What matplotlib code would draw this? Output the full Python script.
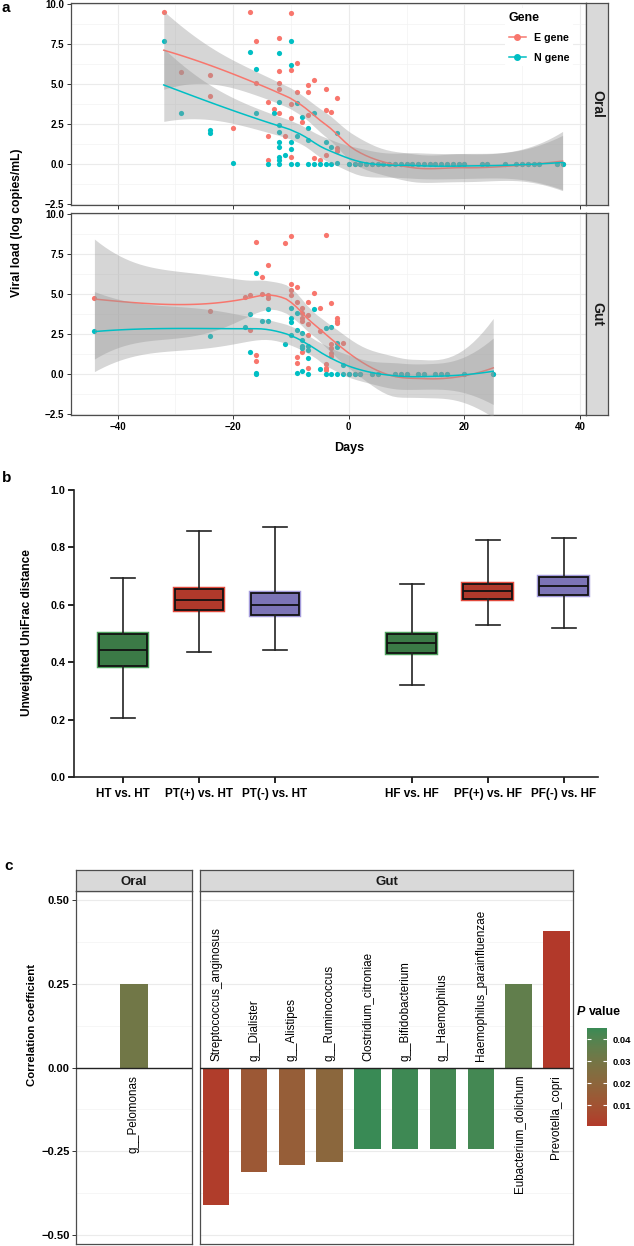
import numpy as np
import matplotlib
matplotlib.use("Agg")
import matplotlib.pyplot as plt
from matplotlib.colors import LinearSegmentedColormap, Normalize
from matplotlib.cm import ScalarMappable
from matplotlib.lines import Line2D
from matplotlib.patches import Rectangle

plt.rcParams['font.family'] = ['Liberation Sans', 'DejaVu Sans']
plt.rcParams['font.weight'] = 'bold'

# ---------------- data: panel a ----------------
oral_e_days = [-32, -29, -24, -24, -20, -17, -16, -16, -14, -14, -14, -13, -12, -12, -12, -12, -12, -11,
               -10, -10, -10, -10, -10, -9, -9, -8, -7, -7, -7, -6, -6, -5, -4, -4, -4, -3, -2, -2, -2]
oral_e_load = [9.48, 5.75, 5.54, 4.23, 2.25, 9.48, 7.71, 5.04, 3.85, 1.77, 0.25, 3.46, 7.87, 5.81, 5.04, 4.69, 3.17, 1.77,
               9.42, 5.85, 3.73, 2.85, 0.46, 6.29, 4.48, 2.65, 4.94, 4.48, 3.06, 5.25, 0.40, 0.25, 4.71, 3.38, 0.60, 3.25, 4.10, 1.02, 0.83]
oral_n_days = [-32, -29, -24, -24, -20, -17, -16, -16, -14, -13, -12, -12, -12, -12, -12, -12, -12, -12, -12, -11,
               -10, -10, -10, -10, -10, -9, -9, -9, -8, -7, -7, -7, -6, -6, -5, -4, -4, -3, -3, -2, -2]
oral_n_load = [7.71, 3.17, 2.10, 1.92, 0.10, 7.00, 5.94, 3.17, 0.02, 3.17, 6.94, 3.85, 2.42, 1.98, 1.40, 1.06, 0.46, 0.25, 0.02, 0.54,
               7.69, 6.19, 1.40, 0.94, 0.02, 3.83, 1.73, 0.02, 2.92, 2.27, 1.50, 0.00, 3.21, 0.00, 0.00, 1.40, 0.00, 1.08, 0.00, 1.94, 0.10]
oral_zero_days = [0, 1, 2, 3, 4, 5, 6, 7, 8, 9, 10, 11, 12, 13, 14, 15, 16, 17, 18, 19, 20, 23, 24, 27, 29, 30, 31, 32, 33, 36, 37]
oral_zero_load = [0.0, 0.0, 0.0, 0.0, 0.0, 0.0, 0.0, 0.0, 0.0, 0.0, 0.0, 0.0, 0.0, 0.0, 0.0, 0.0, 0.0, 0.0, 0.0, 0.0, 0.0,
                  0.0, 0.0, 0.0, 0.0, 0.0, 0.0, 0.0, 0.0, 0.0, 0.0]

gut_e_days = [-44, -24, -18, -17, -17, -16, -16, -16, -15, -15, -14, -14, -14, -11, -10, -10, -10, -10, -9, -9, -9, -9,
              -8, -8, -8, -8, -8, -7, -7, -7, -7, -7, -6, -5, -5, -4, -4, -4, -4, -3, -3, -3, -3, -3, -2, -2, -2, -1]
gut_e_load = [4.75, 3.93, 4.79, 4.96, 2.73, 8.26, 1.22, 0.84, 6.05, 5.00, 6.81, 4.96, 4.73, 8.15, 8.63, 5.63, 5.25, 4.92,
              5.44, 4.50, 1.07, 0.71, 4.10, 3.80, 3.47, 3.32, 1.39, 4.50, 3.66, 3.13, 2.42, 0.36, 5.06, 4.12, 2.69,
              8.65, 0.61, 0.40, 0.23, 4.44, 1.85, 1.60, 1.32, 1.11, 3.49, 3.34, 3.21, 1.95]
gut_n_days = [-44, -24, -18, -17, -17, -16, -16, -16, -15, -14, -14, -11, -10, -10, -10, -10, -9, -9, -9,
              -8, -8, -8, -8, -8, -7, -7, -7, -7, -6, -5, -4, -4, -3, -3, -2, -2, -2, -1, -1]
gut_n_load = [2.71, 2.39, 2.92, 3.74, 1.39, 6.28, 0.10, 0.00, 3.30, 3.30, 4.05, 1.85, 4.10, 3.49, 3.24, 2.46, 3.84, 2.75, 0.08,
              2.58, 2.12, 1.76, 1.64, 0.17, 1.76, 1.53, 0.99, 0.02, 4.05, 0.30, 2.90, 0.00, 2.96, 0.00, 1.91, 1.70, 0.00, 0.60, 0.00]
gut_zero_days = [0, 1, 2, 4, 5, 8, 9, 10, 12, 13, 15, 16, 17, 20, 25]
gut_zero_load = [0.0, 0.0, 0.0, 0.0, 0.0, 0.0, 0.0, 0.0, 0.0, 0.0, 0.0, 0.0, 0.0, 0.0, 0.0]

genes = ['E gene', 'N gene']
gene_colors = ['#F8766D', '#00BFC4']

# ---------------- data: panel b ----------------
b_labels = ['HT vs. HT', 'PT(+) vs. HT', 'PT(-) vs. HT', 'HF vs. HF', 'PF(+) vs. HF', 'PF(-) vs. HF']
b_whislo = [0.206, 0.435, 0.441, 0.319, 0.528, 0.518]
b_q1 = [0.386, 0.581, 0.566, 0.433, 0.620, 0.633]
b_med = [0.443, 0.617, 0.600, 0.466, 0.647, 0.665]
b_q3 = [0.500, 0.655, 0.641, 0.498, 0.671, 0.697]
b_whishi = [0.692, 0.857, 0.871, 0.671, 0.825, 0.832]
b_face = ['#3B7A46', '#B0392B', '#7C74B6', '#3B7A46', '#B0392B', '#7C74B6']
b_rim = ['#4FA25E', '#E24A3C', '#A39BDB', '#4FA25E', '#E24A3C', '#A39BDB']

# ---------------- data: panel c ----------------
c_oral_taxa = ['g__Pelomonas']
c_oral_r = [0.25]
c_oral_p = [0.031]
c_gut_taxa = ['Streptococcus_anginosus', 'g__Dialister', 'g__Alistipes', 'g__Ruminococcus',
              'Clostridium_citroniae', 'g__Bifidobacterium', 'g__Haemophilus',
              'Haemophilus_parainfluenzae', 'Eubacterium_dolichum', 'Prevotella_copri']
c_gut_r = [-0.411, -0.311, -0.291, -0.281, -0.242, -0.242, -0.242, -0.242, 0.249, 0.409]
c_gut_p = [0.002, 0.013, 0.016, 0.021, 0.045, 0.044, 0.043, 0.043, 0.036, 0.0006]
p_ticks = [0.01, 0.02, 0.03, 0.04]

# ---------------- helpers ----------------
W, H = 634, 1246
fig = plt.figure(figsize=(W / 100, H / 100), dpi=100)


def rect(l, t, r, b):
    return [l / W, 1 - b / H, (r - l) / W, (b - t) / H]


def t975(df):
    z = 1.959964
    return (z + (z ** 3 + z) / (4 * df) + (5 * z ** 5 + 16 * z ** 3 + 3 * z) / (96 * df ** 2)
            + (3 * z ** 7 + 19 * z ** 5 + 17 * z ** 3 - 15 * z) / (384 * df ** 3))


def loess(x, y, xg, span=0.75, cell=0.2):
    """Local quadratic loess with kd-tree vertices and cubic Hermite interpolation (like R)."""
    x = np.asarray(x, float)
    y = np.asarray(y, float)
    n = len(x)
    q = int(np.floor(n * span))

    def local(x0):
        d = np.abs(x - x0)
        h = np.sort(d)[q - 1] * 1.0001 + 1e-9
        u = np.clip(d / h, 0, 1)
        w = (1 - u ** 3) ** 3
        X = np.column_stack([np.ones(n), x - x0, (x - x0) ** 2])
        XtW = X.T * w
        B = np.linalg.solve(XtW @ X, XtW)
        return B[0], B[1]

    xs = np.sort(x)
    fc = int(np.floor(n * span * cell))
    marg = 0.005 * (xs[-1] - xs[0])
    lo0, hi0 = xs[0] - marg, xs[-1] + marg
    verts = {lo0, hi0}

    def split(pts, lo, hi):
        if len(pts) <= fc:
            return
        m = (len(pts) + 1) // 2 - 1
        while m > 0 and pts[m - 1] == pts[m]:
            m -= 1
        v = pts[m]
        if v <= lo or v >= hi:
            return
        verts.add(v)
        split(pts[pts < v], lo, v)
        split(pts[pts >= v], v, hi)

    split(xs, lo0, hi0)
    vx = np.array(sorted(verts))
    R0, R1 = zip(*[local(v) for v in vx])
    R0 = np.array(R0)
    R1 = np.array(R1)

    def rows(xq):
        out = []
        for x0 in xq:
            i = int(np.clip(np.searchsorted(vx, x0) - 1, 0, len(vx) - 2))
            a, b = vx[i], vx[i + 1]
            hh = b - a
            t = (x0 - a) / hh
            h00 = 2 * t ** 3 - 3 * t ** 2 + 1
            h10 = t ** 3 - 2 * t ** 2 + t
            h01 = -2 * t ** 3 + 3 * t ** 2
            h11 = t ** 3 - t ** 2
            out.append(h00 * R0[i] + h10 * hh * R1[i] + h01 * R0[i + 1] + h11 * hh * R1[i + 1])
        return np.array(out)

    L = rows(x)
    res = y - L @ y
    IL = np.eye(n) - L
    Rm = IL.T @ IL
    d1 = np.trace(Rm)
    d2 = np.trace(Rm @ Rm)
    sigma = np.sqrt(res @ res / d1)
    df = d1 ** 2 / d2
    G = rows(xg)
    fit = G @ y
    se = sigma * np.sqrt((G ** 2).sum(1))
    t = t975(df)
    return fit, fit - t * se, fit + t * se


def srgb2lab(c):
    c = np.asarray(c, float)
    lin = np.where(c <= 0.04045, c / 12.92, ((c + 0.055) / 1.055) ** 2.4)
    M = np.array([[0.4124, 0.3576, 0.1805], [0.2126, 0.7152, 0.0722], [0.0193, 0.1192, 0.9505]])
    xyz = M @ lin / np.array([0.95047, 1.0, 1.08883])
    f = np.where(xyz > 0.008856, np.cbrt(xyz), 7.787 * xyz + 16 / 116)
    return np.array([116 * f[1] - 16, 500 * (f[0] - f[1]), 200 * (f[1] - f[2])])


def lab2srgb(lab):
    L, a, b = lab
    fy = (L + 16) / 116
    fx = fy + a / 500
    fz = fy - b / 200
    f = np.array([fx, fy, fz])
    xyz = np.where(f ** 3 > 0.008856, f ** 3, (f - 16 / 116) / 7.787) * np.array([0.95047, 1.0, 1.08883])
    Mi = np.array([[3.2406, -1.5372, -0.4986], [-0.9689, 1.8758, 0.0415], [0.0557, -0.2040, 1.0570]])
    lin = Mi @ xyz
    c = np.where(lin <= 0.0031308, 12.92 * lin, 1.055 * np.clip(lin, 0, None) ** (1 / 2.4) - 0.055)
    return np.clip(c, 0, 1)


def lab_cmap(c_low, c_high, n=256):
    lo = srgb2lab(matplotlib.colors.to_rgb(c_low))
    hi = srgb2lab(matplotlib.colors.to_rgb(c_high))
    cols = [lab2srgb(lo + (hi - lo) * t) for t in np.linspace(0, 1, n)]
    return LinearSegmentedColormap.from_list('pv', cols)


# ---------------- panel a ----------------
fig.text(2 / W, 1 - 1 / H, 'a', fontsize=11, va='top', ha='left')
facets = [
    ('Oral', (3, 205), [(oral_e_days + oral_zero_days, oral_e_load + oral_zero_load),
                        (oral_n_days + oral_zero_days, oral_n_load + oral_zero_load)]),
    ('Gut', (213, 415), [(gut_e_days + gut_zero_days, gut_e_load + gut_zero_load),
                         (gut_n_days + gut_zero_days, gut_n_load + gut_zero_load)]),
]
axes_a = []
for name, (top, bot), series in facets:
    ax = fig.add_axes(rect(71, top, 586, bot))
    axes_a.append(ax)
    ax.set_xlim(-48.05, 41.05)
    ax.set_ylim(-2.55, 10.05)
    ax.set_xticks([-40, -20, 0, 20, 40])
    ax.set_xticks([-30, -10, 10, 30], minor=True)
    ax.set_yticks([-2.5, 0, 2.5, 5, 7.5, 10])
    ax.set_yticks([-1.25, 1.25, 3.75, 6.25, 8.75], minor=True)
    ax.grid(which='major', color='#EBEBEB', lw=0.8)
    ax.grid(which='minor', color='#F3F3F3', lw=0.5)
    ax.set_axisbelow(True)
    ax.tick_params(which='minor', length=0)
    ax.tick_params(which='major', length=3.2, width=0.7, color='#333333', labelsize=7, pad=1.5)
    for s in ax.spines.values():
        s.set_color('#4D4D4D')
        s.set_linewidth(0.9)
    for (xs, ys), c in zip(series, gene_colors):
        ax.scatter(xs, ys, s=14, color=c, linewidths=0, zorder=2)
    for (xs, ys), c in zip(series, gene_colors):
        xg = np.linspace(min(xs), max(xs), 80)
        fit, lo, hi = loess(xs, ys, xg)
        ax.fill_between(xg, lo, hi, color='#999999', alpha=0.4, lw=0, zorder=3)
        ax.plot(xg, fit, color=c, lw=1.1, zorder=3)
    sax = fig.add_axes(rect(586, top, 608, bot))
    sax.set_facecolor('#D9D9D9')
    sax.set_xticks([])
    sax.set_yticks([])
    for s in sax.spines.values():
        s.set_color('#4D4D4D')
        s.set_linewidth(0.9)
    sax.text(0.5, 0.5, name, rotation=-90, ha='center', va='center', fontsize=10,
             color='#1A1A1A', transform=sax.transAxes)

axes_a[0].tick_params(labelbottom=False)
handles = [Line2D([0], [0], color=c, lw=1.1, marker='o', markersize=4) for c in gene_colors]
leg = axes_a[0].legend(handles, genes, title='Gene', loc='upper right', bbox_to_anchor=(0.985, 1.0),
                       frameon=True, fontsize=7.7, title_fontsize=9, handlelength=1.6,
                       labelspacing=0.9, borderpad=0.3, alignment='left', handletextpad=0.8)
leg.get_frame().set_facecolor('white')
leg.get_frame().set_edgecolor('none')
leg.get_frame().set_alpha(1)
fig.text(17 / W, 1 - 223 / H, 'Viral load (log copies/mL)', rotation=90, ha='center', va='center', fontsize=8.7)
fig.text(349 / W, 1 - 448 / H, 'Days', ha='center', va='center', fontsize=9)

# ---------------- panel b ----------------
fig.text(2 / W, 1 - 478 / H, 'b', fontsize=11, va='center', ha='left')
axb = fig.add_axes(rect(74, 490, 598, 777))
pos = [0, 1, 2, 3.8, 4.8, 5.8]
stats = [dict(whislo=a, q1=b, med=c, q3=d, whishi=e, label=l)
         for a, b, c, d, e, l in zip(b_whislo, b_q1, b_med, b_q3, b_whishi, b_labels)]
bw = 0.64
for p, q1, q3, rc in zip(pos, b_q1, b_q3, b_rim):
    axb.add_patch(Rectangle((p - bw / 2, q1), bw, q3 - q1, facecolor='none', edgecolor=rc, lw=3.2, zorder=1.9))
bp = axb.bxp(stats, positions=pos, widths=bw, capwidths=0.31, patch_artist=True, showfliers=False,
             boxprops=dict(edgecolor='#111111', linewidth=1.3),
             medianprops=dict(color='#111111', linewidth=1.3),
             whiskerprops=dict(color='#222222', linewidth=1.2),
             capprops=dict(color='#222222', linewidth=1.2))
for patch, fc in zip(bp['boxes'], b_face):
    patch.set_facecolor(fc)
    patch.set_zorder(2)
axb.set_xlim(-0.645, 6.25)
axb.set_ylim(0, 1.0)
axb.set_yticks([0, 0.2, 0.4, 0.6, 0.8, 1.0])
axb.set_xticks(pos)
axb.set_xticklabels(b_labels, fontsize=8.5)
axb.tick_params(axis='y', labelsize=7.7, length=4, width=1.2, pad=2)
axb.tick_params(axis='x', length=4, width=1.2, pad=4)
for s in ['top', 'right']:
    axb.spines[s].set_visible(False)
for s in ['left', 'bottom']:
    axb.spines[s].set_linewidth(1.2)
    axb.spines[s].set_color('#222222')
fig.text(27 / W, 1 - 633 / H, 'Unweighted UniFrac distance', rotation=90, ha='center', va='center', fontsize=8.6)

# ---------------- panel c ----------------
fig.text(4 / W, 1 - 866 / H, 'c', fontsize=11, va='center', ha='left')
cmap = lab_cmap('#B2392A', '#398A55')
norm = Normalize(vmin=min(c_oral_p + c_gut_p), vmax=max(c_oral_p + c_gut_p))

axo = fig.add_axes(rect(76, 891, 192, 1244))
axg = fig.add_axes(rect(200, 891, 573, 1244))
panels = [(axo, 'Oral', c_oral_taxa, c_oral_r, c_oral_p, (-1.5, 1.5), [0.0], 76, 192),
          (axg, 'Gut', c_gut_taxa, c_gut_r, c_gut_p, (0.57, 10.44), list(range(1, 11)), 200, 573)]
for ax, name, taxa, rv, pv, xl, xs, l, r in panels:
    ax.set_xlim(*xl)
    ax.set_ylim(-0.527, 0.527)
    for yv in [-0.375, -0.125, 0.125, 0.375]:
        ax.axhline(yv, color='#F3F3F3', lw=0.5, zorder=0)
    for yv in [-0.5, -0.25, 0.25, 0.5]:
        ax.axhline(yv, color='#EBEBEB', lw=0.8, zorder=0)
    ax.bar(xs, rv, width=0.7, color=[cmap(norm(p)) for p in pv], zorder=2)
    ax.axhline(0, color='#222222', lw=1.0, zorder=3)
    for xv, v, t in zip(xs, rv, taxa):
        if v < 0:
            ax.text(xv, 0.02, t, rotation=90, ha='center', va='bottom', fontsize=8.4, fontweight='normal')
        else:
            ax.text(xv, -0.022, t, rotation=90, ha='center', va='top', fontsize=8.4, fontweight='normal')
    ax.set_xticks([])
    for s in ax.spines.values():
        s.set_color('#4D4D4D')
        s.set_linewidth(0.9)
    sax = fig.add_axes(rect(l, 870, r, 891))
    sax.set_facecolor('#D9D9D9')
    sax.set_xticks([])
    sax.set_yticks([])
    for s in sax.spines.values():
        s.set_color('#4D4D4D')
        s.set_linewidth(0.9)
    sax.text(0.5, 0.45, name, ha='center', va='center', fontsize=9.5, color='#1A1A1A', transform=sax.transAxes)

axo.set_yticks([-0.5, -0.25, 0, 0.25, 0.5])
axo.tick_params(axis='y', labelsize=8, length=3, width=0.7, color='#333333', pad=1.5)
axg.set_yticks([])
fig.text(32 / W, 1 - 1025 / H, 'Correlation coefficient', rotation=90, ha='center', va='center', fontsize=8.2)

cax = fig.add_axes(rect(587, 1028, 607, 1126))
cb = fig.colorbar(ScalarMappable(norm=norm, cmap=cmap), cax=cax)
cb.outline.set_visible(False)
cb.set_ticks(p_ticks)
cb.set_ticklabels(['0.01', '0.02', '0.03', '0.04'])
cax.tick_params(length=0, labelsize=6.8, pad=4)
cax.hlines(p_ticks, 0, 0.2, color='white', lw=0.8, transform=cax.get_yaxis_transform())
cax.hlines(p_ticks, 0.8, 1.0, color='white', lw=0.8, transform=cax.get_yaxis_transform())
fig.text(577 / W, 1 - 1012 / H, 'P', fontsize=9, style='italic', ha='left', va='center')
fig.text(589 / W, 1 - 1012 / H, 'value', fontsize=9, ha='left', va='center')

fig.savefig('out.png', dpi=100)
